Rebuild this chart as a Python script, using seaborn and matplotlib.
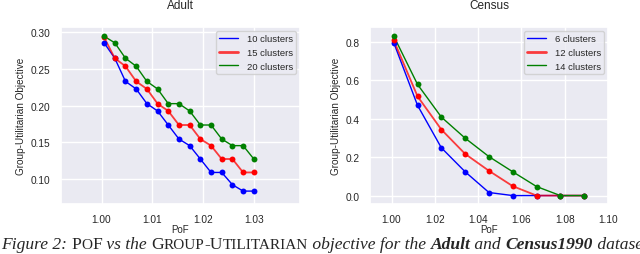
import matplotlib
matplotlib.use("Agg")
import matplotlib.pyplot as plt
import numpy as np
import pandas as pd
import seaborn as sns

# Adult data
adult_pof = [1.0005, 1.0026, 1.0047, 1.0068, 1.0089, 1.0110, 1.0131, 1.0152,
             1.0173, 1.0194, 1.0215, 1.0236, 1.0257, 1.0278, 1.0299]
adult_10 = [0.2855, 0.2645, 0.2330, 0.2227, 0.2027, 0.1927, 0.1736, 0.1545,
            0.1455, 0.1273, 0.1090, 0.1090, 0.0923, 0.0836, 0.0836]
adult_15 = [0.2930, 0.2645, 0.2536, 0.2330, 0.2227, 0.2027, 0.1927, 0.1736,
            0.1736, 0.1545, 0.1455, 0.1273, 0.1273, 0.1090, 0.1090]
adult_20 = [0.2945, 0.2855, 0.2645, 0.2536, 0.2330, 0.2227, 0.2027, 0.2027,
            0.1927, 0.1736, 0.1736, 0.1545, 0.1455, 0.1455, 0.1273]

# Census data
census_pof = [1.001, 1.012, 1.023, 1.034, 1.045, 1.056, 1.067, 1.078, 1.089]
census_6 = [0.797, 0.470, 0.249, 0.124, 0.016, 0.0, 0.0, 0.0, 0.0]
census_12 = [0.809, 0.517, 0.344, 0.217, 0.129, 0.049, 0.0, 0.0, 0.0]
census_14 = [0.831, 0.579, 0.409, 0.299, 0.203, 0.124, 0.047, 0.0, 0.0]

sns.set_theme(style="darkgrid")
plt.rcParams['font.family'] = ['Liberation Sans', 'DejaVu Sans']

fig = plt.figure(figsize=(6.4, 2.55), dpi=100)
ax1 = fig.add_axes([0.095, 0.196, 0.374, 0.694])
ax2 = fig.add_axes([0.578, 0.196, 0.372, 0.694])

colors = ["blue", "red", "green"]
styles = [dict(lw=1.0, alpha=1.0), dict(lw=1.3, alpha=0.75), dict(lw=1.0, alpha=1.0)]
fmt = matplotlib.ticker.FormatStrFormatter


def draw(ax, x, series, labels, title, xlim, ylim, xticks, yticks):
    for y, lab, c, st in zip(series, labels, colors, styles):
        sns.lineplot(x=x, y=y, ax=ax, color=c, label=lab, lw=st["lw"], alpha=st["alpha"])
        ax.scatter(x, y, color=c, s=18, zorder=3, linewidths=0)
    ax.set_xlim(*xlim)
    ax.set_ylim(*ylim)
    ax.set_xticks(xticks)
    ax.set_yticks(yticks)
    ax.tick_params(labelsize=7.3, pad=1.5)
    ax.set_title(title, fontsize=8.5, pad=14)
    ax.set_xlabel("PoF", fontsize=7, labelpad=0)
    ax.set_ylabel("Group-Utilitarian Objective", fontsize=7.2, labelpad=3)
    leg = ax.legend(loc="upper right", fontsize=6.8, handlelength=2.0, borderpad=0.35,
                    labelspacing=0.5, handletextpad=0.9, borderaxespad=0.4)
    leg.get_lines()[1].set_linewidth(2.0)


draw(ax1, adult_pof, [adult_10, adult_15, adult_20],
     ["10 clusters", "15 clusters", "20 clusters"], "Adult",
     (0.992, 1.039), (0.066, 0.307),
     [1.00, 1.01, 1.02, 1.03], [0.10, 0.15, 0.20, 0.25, 0.30])
ax1.yaxis.set_major_formatter(fmt("%.2f"))
ax1.xaxis.set_major_formatter(fmt("%.2f"))

draw(ax2, census_pof, [census_6, census_12, census_14],
     ["6 clusters", "12 clusters", "14 clusters"], "Census",
     (0.99, 1.10), (-0.044, 0.878),
     [1.00, 1.02, 1.04, 1.06, 1.08, 1.10], [0.0, 0.2, 0.4, 0.6, 0.8])
ax2.xaxis.set_major_formatter(fmt("%.2f"))

# caption, built piece by piece
big, small = 12.6, 11.0
pieces = [
    ("Figure 2: ", big, "italic", "normal"),
    ("P", big, "normal", "normal"),
    ("O", small, "normal", "normal"),
    ("F", big, "normal", "normal"),
    (" vs the ", big, "italic", "normal"),
    ("G", big, "normal", "normal"),
    ("ROUP", small, "normal", "normal"),
    ("-U", big, "normal", "normal"),
    ("TILITARIAN", small, "normal", "normal"),
    (" objective for the ", big, "italic", "normal"),
    ("Adult", big, "italic", "bold"),
    (" and ", big, "italic", "normal"),
    ("Census1990", big, "italic", "bold"),
    (" datasets.", big, "italic", "normal"),
]
fig.canvas.draw()
renderer = fig.canvas.get_renderer()
xpos = 1.0
for txt, size, style, weight in pieces:
    t = fig.text(xpos / 640, 0.022, txt, fontsize=size, style=style, weight=weight,
                 family=["Liberation Serif", "DejaVu Serif"], va="baseline", ha="left")
    bb = t.get_window_extent(renderer=renderer)
    xpos += bb.width

fig.savefig("out.png", dpi=100)
